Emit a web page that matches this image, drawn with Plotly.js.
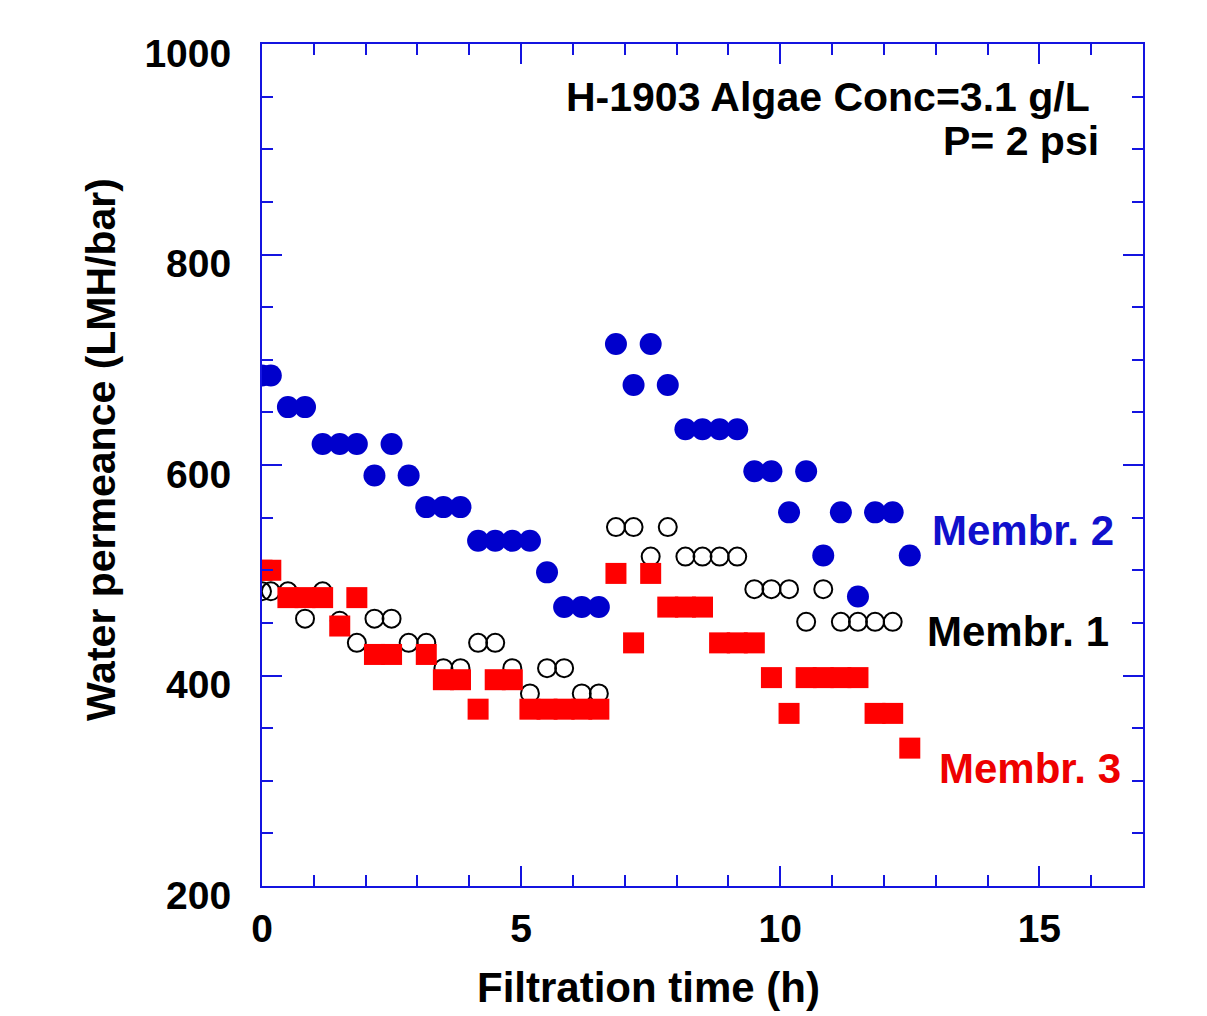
<!DOCTYPE html>
<html>
<head>
<meta charset="utf-8">
<script src="https://cdn.plot.ly/plotly-3.0.1.min.js"></script>
<style>
  html, body { margin: 0; padding: 0; background: #ffffff; }
  #chart { width: 1207px; height: 1016px; }
</style>
</head>
<body>
<div id="chart"></div>
<script>
// Membr. 1 (black open circles)
var timeM1 = [0, 0.17, 0.5, 0.83, 1.17, 1.5, 1.83, 2.17, 2.5, 2.83, 3.17, 3.5, 3.83, 4.17, 4.5, 4.83, 5.17, 5.5, 5.83, 6.17, 6.5,
              6.83, 7.17, 7.5, 7.83, 8.17, 8.5, 8.83, 9.17, 9.5, 9.83, 10.17, 10.5, 10.83, 11.17, 11.5, 11.83, 12.17];
var permM1 = [480, 480, 480, 454, 480, 452, 431, 454, 454, 431, 431, 407, 407, 431, 431, 407, 383, 407, 407, 383, 383,
              541, 541, 513, 541, 513, 513, 513, 513, 482, 482, 482, 451, 482, 451, 451, 451, 451];

// Membr. 2 (blue filled circles)
var timeM2 = [0, 0.17, 0.5, 0.83, 1.17, 1.5, 1.83, 2.17, 2.5, 2.83, 3.17, 3.5, 3.83, 4.17, 4.5, 4.83, 5.17, 5.5, 5.83, 6.17, 6.5,
              6.83, 7.17, 7.5, 7.83, 8.17, 8.5, 8.83, 9.17, 9.5, 9.83, 10.17, 10.5, 10.83, 11.17, 11.5, 11.83, 12.17, 12.5];
var permM2 = [685, 685, 655, 655, 620, 620, 620, 590, 620, 590, 560, 560, 560, 528, 528, 528, 528, 498, 465, 465, 465,
              715, 676, 715, 676, 634, 634, 634, 634, 594, 594, 555, 594, 514, 555, 475, 555, 555, 514];

// Membr. 3 (red filled squares)
var timeM3 = [0, 0.17, 0.5, 0.83, 1.17, 1.5, 1.83, 2.17, 2.5, 3.17, 3.5, 3.83, 4.17, 4.5, 4.83, 5.17, 5.5, 5.83, 6.17, 6.5,
              6.83, 7.17, 7.5, 7.83, 8.17, 8.5, 8.83, 9.17, 9.5, 9.83, 10.17, 10.5, 10.83, 11.17, 11.5, 11.83, 12.17, 12.5];
var permM3 = [500, 500, 474, 474, 474, 447, 474, 420, 420, 420, 396, 396, 368, 396, 396, 368, 368, 368, 368, 368,
              497, 431, 497, 465, 465, 465, 431, 431, 431, 398, 364, 398, 398, 398, 398, 364, 364, 331];

var xTickVals = [0, 5, 10, 15];
var yTickVals = [200, 400, 600, 800, 1000];

var FONT = "Liberation Sans, Arial, Helvetica, sans-serif";
var AXIS_BLUE = "#1414E0";

var traces = [
  {
    x: timeM1, y: permM1, type: "scatter", mode: "markers", name: "Membr. 1",
    marker: { symbol: "circle-open", size: 18, color: "#000000", line: { width: 2, color: "#000000" } }
  },
  {
    x: timeM3, y: permM3, type: "scatter", mode: "markers", name: "Membr. 3",
    marker: { symbol: "square", size: 21, color: "#FF0000", line: { width: 0 } }
  },
  {
    x: timeM2, y: permM2, type: "scatter", mode: "markers", name: "Membr. 2",
    marker: { symbol: "circle", size: 22, color: "#0000CC", line: { width: 0 } }
  }
];

var axisCommon = {
  showline: true, linecolor: AXIS_BLUE, linewidth: 2, mirror: "allticks",
  ticks: "inside", ticklen: 20, tickwidth: 2, tickcolor: AXIS_BLUE,
  showgrid: false, zeroline: false,
  tickfont: { family: FONT, size: 39, color: "#000000", weight: "bold" }
};

var layout = {
  width: 1207, height: 1016,
  margin: { l: 262, r: 64, t: 44, b: 130 },
  paper_bgcolor: "#ffffff", plot_bgcolor: "#ffffff",
  showlegend: false,
  font: { family: FONT, color: "#000000" },
  xaxis: Object.assign({}, axisCommon, {
    range: [0, 17], tickvals: xTickVals, ticktext: xTickVals.map(String),
    ticklabelstandoff: 7,
    minor: { dtick: 1, tick0: 0, ticks: "inside", ticklen: 11, tickwidth: 2, tickcolor: AXIS_BLUE, showgrid: false }
  }),
  yaxis: Object.assign({}, axisCommon, {
    range: [200, 1000], tickvals: yTickVals, ticktext: yTickVals.map(String),
    ticklabelstandoff: 21, ticklabelshift: 9,
    minor: { dtick: 50, tick0: 0, ticks: "inside", ticklen: 11, tickwidth: 2, tickcolor: AXIS_BLUE, showgrid: false }
  }),
  annotations: [
    { text: "Filtration time (h)", xref: "paper", yref: "paper", x: 0.4387, y: -0.121,
      xanchor: "center", yanchor: "middle", showarrow: false,
      font: { family: FONT, size: 42, color: "#000000", weight: "bold" } },
    { text: "Water permeance (LMH/bar)", xref: "paper", yref: "paper", x: -0.1827, y: 0.5178,
      xanchor: "center", yanchor: "middle", showarrow: false, textangle: -90,
      font: { family: FONT, size: 41, color: "#000000", weight: "bold" } },
    { text: "H-1903 Algae Conc=3.1 g/L", xref: "paper", yref: "paper", x: 0.942, y: 0.937,
      xanchor: "right", yanchor: "middle", showarrow: false,
      font: { family: FONT, size: 41, color: "#000000", weight: "bold" } },
    { text: "P= 2 psi", xref: "paper", yref: "paper", x: 0.952, y: 0.885,
      xanchor: "right", yanchor: "middle", showarrow: false,
      font: { family: FONT, size: 41, color: "#000000", weight: "bold" } },
    { text: "Membr. 2", xref: "paper", yref: "paper", x: 0.758, y: 0.4228,
      xanchor: "left", yanchor: "middle", showarrow: false,
      font: { family: FONT, size: 42, color: "#1010CC", weight: "bold" } },
    { text: "Membr. 1", xref: "paper", yref: "paper", x: 0.7526, y: 0.3017,
      xanchor: "left", yanchor: "middle", showarrow: false,
      font: { family: FONT, size: 42, color: "#000000", weight: "bold" } },
    { text: "Membr. 3", xref: "paper", yref: "paper", x: 0.766, y: 0.140,
      xanchor: "left", yanchor: "middle", showarrow: false,
      font: { family: FONT, size: 42, color: "#EE0000", weight: "bold" } }
  ]
};

Plotly.newPlot("chart", traces, layout, { displayModeBar: false, staticPlot: true });
</script>
</body>
</html>
